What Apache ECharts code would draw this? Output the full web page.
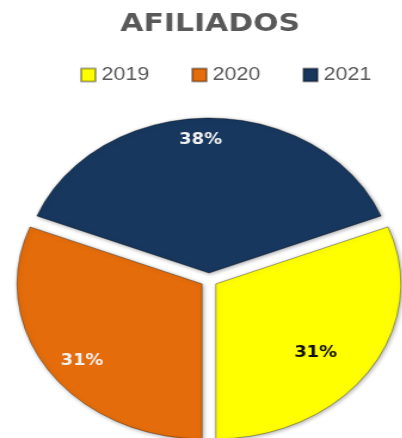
<!DOCTYPE html>
<html>
<head>
<meta charset="utf-8">
<script src="https://cdn.jsdelivr.net/npm/echarts@6/dist/echarts.min.js"></script>
<style>
    html, body { margin: 0; padding: 0; background: #fff; overflow: hidden; }
    /* the original picture is a stretched Excel chart, so stretch the canvas the same way */
    #main { width: 337px; height: 438px; transform: scaleX(1.194); transform-origin: 0 0; }
</style>
</head>
<body>
<div id="main"></div>
<script>
// datos
var years = ['2019', '2020', '2021'];
var afiliados = [31, 31, 38];
var colores = ['#FFFF00', '#E46C0A', '#17375E'];
var colorTexto = ['#111111', '#F2F2F2', '#F2F2F2'];
// ajuste fino de las etiquetas (como las coloca Excel)
var ajusteEtiqueta = [[-19, -1], [2, 7], [-7, -9]];

var chart = echarts.init(document.getElementById('main'));

var datos = years.map(function (y, i) {
    return {
        name: y,
        value: afiliados[i],
        selected: true,
        itemStyle: { color: colores[i] }
    };
});
var etiquetas = years.map(function (y, i) {
    return {
        name: y,
        value: afiliados[i],
        selected: true,
        label: { color: colorTexto[i] }
    };
});

var option = {
    animation: false,
    title: {
        text: 'AFILIADOS',
        left: 171,
        top: 7,
        textAlign: 'center',
        textStyle: {
            fontFamily: 'DejaVu Sans',
            fontWeight: 'bold',
            fontSize: 25,
            color: '#595959'
        }
    },
    legend: {
        left: 67,
        top: 66,
        padding: 0,
        icon: 'rect',
        itemWidth: 12,
        itemHeight: 13,
        itemGap: 35,
        selectedMode: false,
        data: years,
        textStyle: {
            fontFamily: 'Liberation Sans',
            fontSize: 18,
            color: '#595959'
        }
    },
    series: [
        {
            type: 'pie',
            center: [175, 280],
            radius: 155,
            startAngle: 21.6,
            selectedMode: 'multiple',
            selectedOffset: 7,
            label: { show: false },
            labelLine: { show: false },
            itemStyle: {
                borderColor: 'rgba(0,0,0,0.35)',
                borderWidth: 1,
                shadowBlur: 4,
                shadowColor: 'rgba(0,0,0,0.35)',
                shadowOffsetX: 1,
                shadowOffsetY: 1
            },
            emphasis: { disabled: true },
            data: datos
        },
        {
            // capa solo para las etiquetas de porcentaje
            type: 'pie',
            center: [175, 280],
            radius: [87, 155],
            startAngle: 21.6,
            selectedMode: 'multiple',
            selectedOffset: 7,
            silent: true,
            itemStyle: { color: 'rgba(0,0,0,0)' },
            label: {
                show: true,
                position: 'inside',
                formatter: '{d}%',
                fontFamily: 'DejaVu Sans',
                fontWeight: 'bold',
                fontSize: 15
            },
            labelLayout: function (params) {
                var a = ajusteEtiqueta[params.dataIndex];
                return { dx: a[0], dy: a[1] };
            },
            labelLine: { show: false },
            emphasis: { disabled: true },
            data: etiquetas
        }
    ]
};
chart.setOption(option);
</script>
</body>
</html>
